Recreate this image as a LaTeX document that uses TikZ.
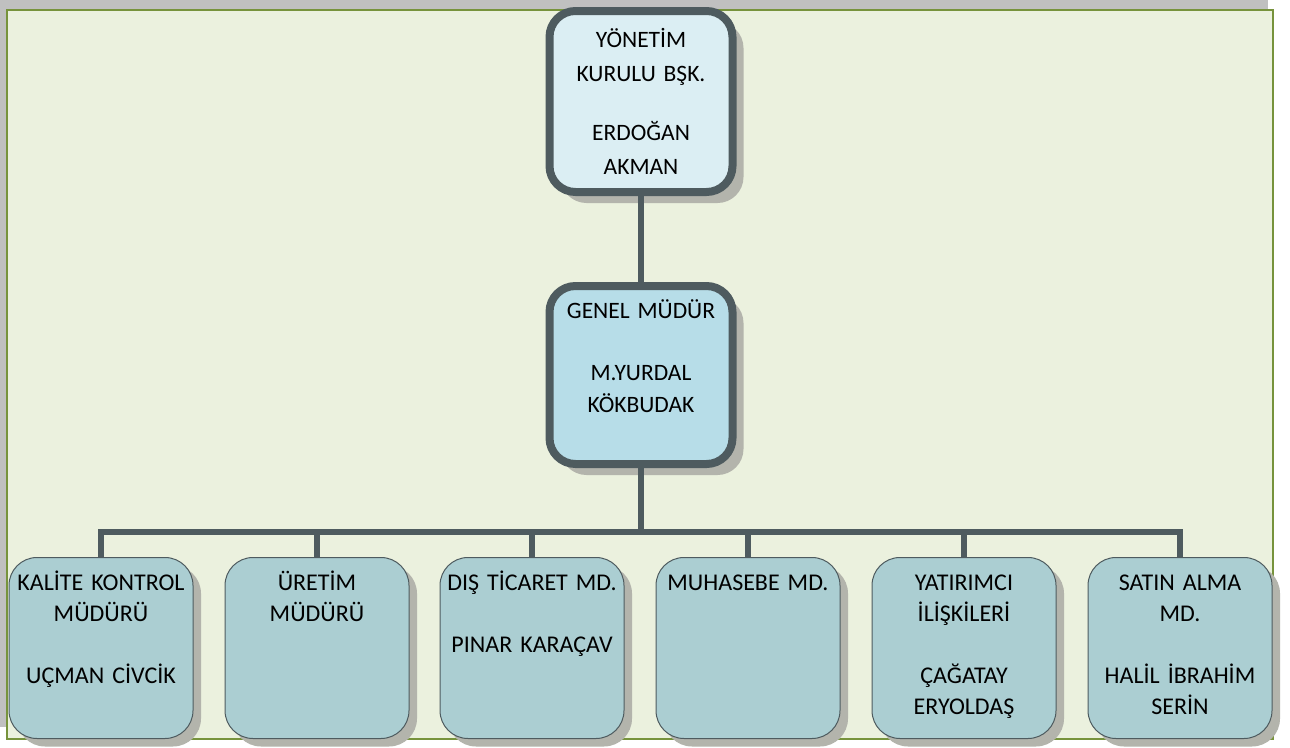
\documentclass[tikz,border=0pt]{standalone}
\usepackage{fontspec}
\setmainfont{Carlito}[WordSpace=0.75]
\usetikzlibrary{positioning,shadows}

\definecolor{pagegray}{HTML}{C0C0C0}
\definecolor{panelgreen}{HTML}{EBF1DE}
\definecolor{panelline}{HTML}{77933C}
\definecolor{linegray}{HTML}{4E5B5F}
\definecolor{shadowgray}{HTML}{B3B4AC}
\definecolor{topblue}{HTML}{DBEEF3}
\definecolor{midblue}{HTML}{B7DDE8}
\definecolor{deptblue}{HTML}{ABCED2}

\begin{document}
\begin{tikzpicture}
		[x=1pt,y=-1pt,
		head node/.style={draw=linegray,line width=8pt,rounded corners=26pt,text width=183pt,align=center,inner sep=0pt,
			drop shadow={shadow xshift=11pt,shadow yshift=-11pt,fill=shadowgray,opacity=1}},
		dept node/.style={draw=linegray,line width=1pt,fill=deptblue,rounded corners=28pt,text width=184pt,align=center,inner sep=0pt,
			text height=32.5pt,text depth=148.5pt,font=\fontsize{24}{31}\selectfont,
			drop shadow={shadow xshift=8pt,shadow yshift=-8pt,fill=shadowgray,opacity=1}},
		link/.style={draw=linegray,line width=6pt}]
		\useasboundingbox (0,0) rectangle (1290,747);
		\fill[white] (0,0) rectangle (1290,747);
		\fill[pagegray] (0,0) rectangle (1268,727);
		\draw[fill=panelgreen,draw=panelline,line width=2.5pt] (7,10) rectangle (1273,739);
		
		\node [head node,fill=topblue,text height=36pt,text depth=145pt,font=\fontsize{23.5}{34}\selectfont] (1) at (641,101.5)
			{YÖNETİM\\KURULU BŞK.\\[25pt]ERDOĞAN\\AKMAN};
		\node [head node,fill=midblue,text height=32pt,text depth=146pt,font=\fontsize{23.5}{32}\selectfont] (2) at (641,375)
			{GENEL MÜDÜR\\[30pt]M.YURDAL\\KÖKBUDAK};
		
		\node [dept node] (3) at (101,648) {KALİTE KONTROL\\MÜDÜRÜ\\[31pt]UÇMAN CİVCİK};
		\node [dept node] (4) at (317,648) {ÜRETİM\\MÜDÜRÜ};
		\node [dept node] (5) at (532,648) {DIŞ TİCARET MD.\\[31pt]PINAR KARAÇAV};
		\node [dept node] (6) at (748,648) {MUHASEBE MD.};
		\node [dept node] (7) at (964,648) {YATIRIMCI\\İLİŞKİLERİ\\[31pt]ÇAĞATAY\\ERYOLDAŞ};
		\node [dept node] (8) at (1180,648) {SATIN ALMA\\MD.\\[31pt]HALİL İBRAHİM\\SERİN};
		
		\coordinate (bus) at (641,532);
		
		\path[link]
		(1) -- (2)
		(2.south) -- (bus);
		\foreach \n in {3,...,8}
			\draw[link] (bus) -| (\n.north);
		
\end{tikzpicture}
\end{document}
